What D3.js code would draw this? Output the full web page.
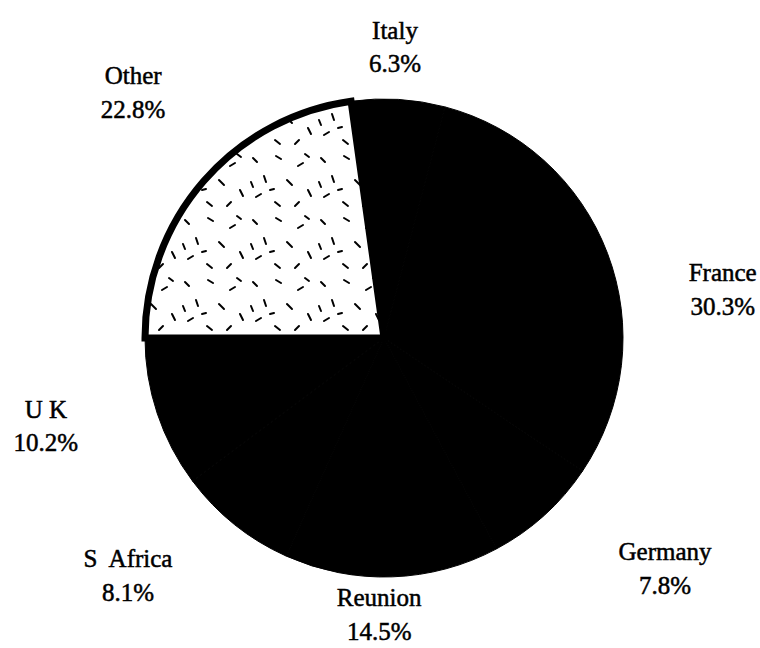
<!DOCTYPE html>
<html lang="en">
<head>
    <meta charset="UTF-8">
    <title>Share by country</title>
    <script src="https://d3js.org/d3.v7.min.js"></script>
    <style>
        body { margin: 0; background: #fff; }
        svg text { font-family: "Liberation Serif", "Times New Roman", serif; }
    </style>
</head>
<body>
    <div id="chart"></div>
    <script>
        // Data, clockwise from 9 o'clock
        const countries = ["Other", "Italy", "France", "Germany", "Reunion", "S Africa", "UK"];
        const shares = [22.8, 6.3, 30.3, 7.8, 14.5, 8.1, 10.2];
        const labelNames = ["Other", "Italy", "France", "Germany", "Reunion", "S  Africa", "U K"];

        // label placement: [radius, angle tweak in degrees] from the slice middle
        const labelLayout = [[355, 4], [297, -1.3], [343, 11.6], [360, -9.2], [271, 3], [345, 9.2], [348, 4.7]];

        const width = 760, height = 648;
        const cx = 384, cy = 338, radius = 239;

        const svg = d3.select('#chart').append('svg')
            .attr('width', width)
            .attr('height', height);

        // speckle texture for the light slice
        const defs = svg.append('defs');
        const pat = defs.append('pattern')
            .attr('id', 'speckle')
            .attr('patternUnits', 'userSpaceOnUse')
            .attr('width', 68)
            .attr('height', 62);
        pat.append('rect').attr('width', 68).attr('height', 62).attr('fill', '#fff');
        const dashes = [
            [5, 6, 9, 10], [28, 4, 33, 7], [50, 14, 55, 11], [16, 24, 18, 30],
            [39, 28, 44, 33], [60, 38, 63, 44], [8, 45, 13, 42], [27, 50, 32, 54],
            [47, 54, 51, 50], [3, 30, 5, 35], [57, 2, 61, 5], [22, 38, 26, 37]
        ];
        pat.selectAll('line')
            .data(dashes)
            .enter().append('line')
            .attr('x1', d => d[0]).attr('y1', d => d[1])
            .attr('x2', d => d[2]).attr('y2', d => d[3])
            .attr('stroke', '#000')
            .attr('stroke-width', 2)
            .attr('stroke-linecap', 'round');

        const pie = d3.pie()
            .sort(null)
            .value(d => d)
            .startAngle(-Math.PI / 2)
            .endAngle(3 * Math.PI / 2);

        const arcs = pie(shares);

        const arc = d3.arc()
            .innerRadius(0)
            .outerRadius(radius);

        const g = svg.append('g')
            .attr('transform', `translate(${cx},${cy})`);

        g.selectAll('.slice')
            .data(arcs)
            .enter().append('path')
            .attr('class', 'slice')
            .attr('d', arc)
            .attr('fill', (d, i) => countries[i] === 'Other' ? 'url(#speckle)' : '#000')
            .attr('stroke', '#000')
            .attr('stroke-width', (d, i) => countries[i] === 'Other' ? 7 : 1)
            .attr('stroke-linejoin', 'miter');

        // labels
        const lab = svg.append('g');
        arcs.forEach((d, i) => {
            const mid = (d.startAngle + d.endAngle) / 2 + labelLayout[i][1] * Math.PI / 180;
            const r = labelLayout[i][0];
            const x = cx + r * Math.sin(mid);
            const y = cy - r * Math.cos(mid);
            const t = lab.append('text')
                .attr('x', x)
                .attr('y', y)
                .attr('text-anchor', 'middle')
                .style('font-size', '25px')
                .style('fill', '#000')
                .style('stroke', '#000')
                .style('stroke-width', 0.5)
                .style('white-space', 'pre');
            t.append('tspan')
                .attr('x', x)
                .attr('dy', '-0.1em')
                .text(labelNames[i]);
            t.append('tspan')
                .attr('x', x)
                .attr('dy', '1.35em')
                .text(shares[i].toFixed(1) + '%');
        });
    </script>
</body>
</html>
